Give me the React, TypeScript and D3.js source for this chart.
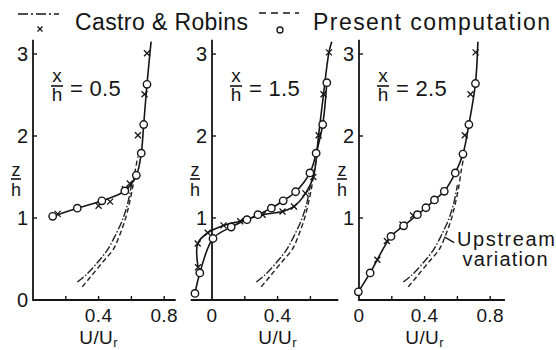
import React from 'react';
import * as d3 from 'd3';

// upstream profiles (same in every panel)
const upPcU = [0.3, 0.35, 0.42, 0.49, 0.53, 0.565, 0.59, 0.61, 0.625, 0.64];
const upPcZ = [0.16, 0.28, 0.45, 0.62, 0.8, 1.0, 1.2, 1.4, 1.6, 1.75];
const upCrU = [0.27, 0.32, 0.39, 0.45, 0.5, 0.55, 0.58, 0.6];
const upCrZ = [0.22, 0.3, 0.45, 0.6, 0.78, 1.0, 1.2, 1.4];

// x/h = 0.5
const pc05U = [0.12, 0.27, 0.42, 0.56, 0.63, 0.66, 0.675, 0.695];
const pc05Z = [1.02, 1.12, 1.21, 1.33, 1.52, 1.79, 2.14, 2.63];
const cr05U = [0.15, 0.4, 0.47, 0.56, 0.59, 0.64, 0.68, 0.695];
const cr05Z = [1.05, 1.15, 1.2, 1.35, 1.42, 2.01, 2.51, 3.01];

// x/h = 1.5
const pc15U = [-0.104, -0.074, 0.006, 0.117, 0.213, 0.28, 0.362, 0.434, 0.51, 0.597, 0.635, 0.675, 0.7];
const pc15Z = [0.08, 0.33, 0.75, 0.89, 0.98, 1.04, 1.12, 1.21, 1.32, 1.55, 1.79, 2.14, 2.65];
const cr15U = [-0.085, -0.087, -0.026, 0.07, 0.172, 0.309, 0.43, 0.5, 0.57, 0.618, 0.65, 0.68, 0.713];
const cr15Z = [0.4, 0.69, 0.82, 0.91, 0.96, 1.04, 1.08, 1.14, 1.3, 1.5, 2.01, 2.51, 3.02];

// x/h = 2.5
const pc25U = [-0.004, 0.068, 0.195, 0.272, 0.356, 0.408, 0.46, 0.52, 0.587, 0.634, 0.67, 0.71];
const pc25Z = [0.1, 0.33, 0.775, 0.905, 1.04, 1.125, 1.22, 1.325, 1.55, 1.78, 2.14, 2.64];
const cr25U = [0.112, 0.17, 0.265, 0.33, 0.41, 0.52, 0.645, 0.68, 0.711];
const cr25Z = [0.49, 0.72, 0.92, 1.03, 1.13, 1.33, 2.01, 2.51, 3.02];

// top of the solid line above the last marker
const lineTopU = [0.72, 0.73, 0.725];
const lineTopZ = 3.15;

const stations = ['0.5', '1.5', '2.5'];
const xDomains = [[0, 0.87], [-0.13, 0.77], [0, 0.89]];
const xOrigins = [33, 212, 359];
const xTickMarks = [[0.2, 0.4, 0.6, 0.8], [0.2, 0.4, 0.6], [0.2, 0.4, 0.6, 0.8]];
const xTickLabels = [[0.4, 0.8], [0, 0.4], [0, 0.4, 0.8]];
const yTickMarks = [1, 2, 3];
const yTickLabels = [[0, 1, 2, 3], [1, 2, 3], [1, 2, 3]];
// only at x/h = 1.5 do the two profiles part enough to show two lines
const showCrLine = [false, true, false];

const FONT = '"Liberation Sans", Arial, Helvetica, sans-serif';
const PX_PER_U = 164;
const INK = '#151515';

const zip = (u: number[], z: number[]) => u.map((v, i) => [v, z[i]] as [number, number]);

const y = d3.scaleLinear().domain([0, 3.15]).range([300, 41.7]);

const Panel = ({ i, pc, cr }: { i: number; pc: [number, number][]; cr: [number, number][] }) => {
  const [d0, d1] = xDomains[i];
  const x = d3.scaleLinear().domain([d0, d1])
    .range([xOrigins[i] + d0 * PX_PER_U, xOrigins[i] + d1 * PX_PER_U]);
  const line = d3.line<[number, number]>()
    .x(d => x(d[0])).y(d => y(d[1]))
    .curve(d3.curveCatmullRom.alpha(0.5));
  const top: [number, number] = [lineTopU[i], lineTopZ];
  const crLine = [...cr, top];
  const pcLine = showCrLine[i] ? pc : [...pc, top];
  const x0 = x(0);
  const [r0, r1] = x.range();
  return (
    <g>
      {/* axes */}
      <line x1={x0} x2={x0} y1={y(0) + 1} y2={y(3.15) - 2} stroke={INK} strokeWidth={1.8} />
      <line x1={r0} x2={r1} y1={y(0)} y2={y(0)} stroke={INK} strokeWidth={1.8} />
      {xTickMarks[i].map(t => (
        <line key={t} x1={x(t)} x2={x(t)} y1={y(0)} y2={y(0) - 4} stroke={INK} strokeWidth={1.4} />
      ))}
      {yTickMarks.map(t => (
        <line key={t} x1={x0} x2={x0 + 4} y1={y(t)} y2={y(t)} stroke={INK} strokeWidth={1.4} />
      ))}
      {xTickLabels[i].map(t => (
        <text key={t} x={x(t)} y={322} textAnchor="middle" fontSize={19} letterSpacing={0.4}>{String(t)}</text>
      ))}
      {yTickLabels[i].map(t => (
        <text key={t} x={x0 - 5} y={y(t) + 7} textAnchor="end" fontSize={20}>{String(t)}</text>
      ))}
      {/* axis titles */}
      <text x={x(0.4)} y={344} textAnchor="middle" fontSize={19} letterSpacing={0.4}>
        U/U<tspan fontSize={13} dy={3}>r</tspan>
      </text>
      <g transform={`translate(${x0 - 17},0)`}>
        <text x={0} y={176} textAnchor="middle" fontSize={18}>z</text>
        <line x1={-5} x2={5} y1={179} y2={179} stroke={INK} strokeWidth={1.6} />
        <text x={0} y={196} textAnchor="middle" fontSize={18}>h</text>
      </g>
      {/* station label */}
      <g transform={`translate(${x0 + 24},0)`}>
        <text x={0} y={82} textAnchor="middle" fontSize={19}>x</text>
        <line x1={-6} x2={6} y1={86} y2={86} stroke={INK} strokeWidth={1.6} />
        <text x={0} y={101} textAnchor="middle" fontSize={19}>h</text>
        <text x={13} y={96} fontSize={22} letterSpacing={0.3}>= {stations[i]}</text>
      </g>
      {/* upstream profiles */}
      <path d={line(zip(upPcU, upPcZ)) || ''} fill="none" stroke="#222" strokeWidth={1.4} strokeDasharray="5,3" />
      <path d={line(zip(upCrU, upCrZ)) || ''} fill="none" stroke="#222" strokeWidth={1.4} strokeDasharray="8,2,1.5,2" />
      {/* measured and computed profiles */}
      {showCrLine[i] && <path d={line(crLine) || ''} fill="none" stroke={INK} strokeWidth={1.6} />}
      <path d={line(pcLine) || ''} fill="none" stroke={INK} strokeWidth={1.6} />
      {cr.map((d, k) => (
        <path key={k} transform={`translate(${x(d[0])},${y(d[1])})`}
          d="M-3,-3L3,3M-3,3L3,-3" stroke={INK} strokeWidth={1.3} />
      ))}
      {pc.map((d, k) => (
        <circle key={k} cx={x(d[0])} cy={y(d[1])} r={3.7} fill="#fff" stroke={INK} strokeWidth={1.4} />
      ))}
      {i === 2 && (
        <g>
          <line x1={x(0.52)} y1={y(0.77)} x2={x(0.58)} y2={y(0.7)} stroke={INK} strokeWidth={1.3} />
          <text x={506} y={246} textAnchor="middle" fontSize={20} textLength={98} lengthAdjust="spacing">Upstream</text>
          <text x={505} y={266} textAnchor="middle" fontSize={20} textLength={85} lengthAdjust="spacing">variation</text>
        </g>
      )}
    </g>
  );
};

export default function App() {
  return (
    <svg width={556} height={350} style={{ position: 'absolute', left: 0, top: 0, background: '#fff' }}
      fontFamily={FONT} fill={INK}>
      {/* legend */}
      <line x1={18} x2={59} y1={14} y2={14} stroke={INK} strokeWidth={1.6} strokeDasharray="10,3,2,3" />
      <path transform="translate(40,29)" d="M-2.5,-2.5L2.5,2.5M-2.5,2.5L2.5,-2.5" stroke={INK} strokeWidth={1.3} />
      <text x={75} y={30} fontSize={23} textLength={173} lengthAdjust="spacing">Castro &amp; Robins</text>
      <line x1={259} x2={299} y1={13} y2={13} stroke={INK} strokeWidth={1.6} strokeDasharray="7,5" />
      <circle cx={280} cy={30} r={3} fill="none" stroke={INK} strokeWidth={1.3} />
      <text x={313} y={30} fontSize={23} textLength={237} lengthAdjust="spacing">Present computation</text>
      <Panel i={0} pc={zip(pc05U, pc05Z)} cr={zip(cr05U, cr05Z)} />
      <Panel i={1} pc={zip(pc15U, pc15Z)} cr={zip(cr15U, cr15Z)} />
      <Panel i={2} pc={zip(pc25U, pc25Z)} cr={zip(cr25U, cr25Z)} />
    </svg>
  );
}
